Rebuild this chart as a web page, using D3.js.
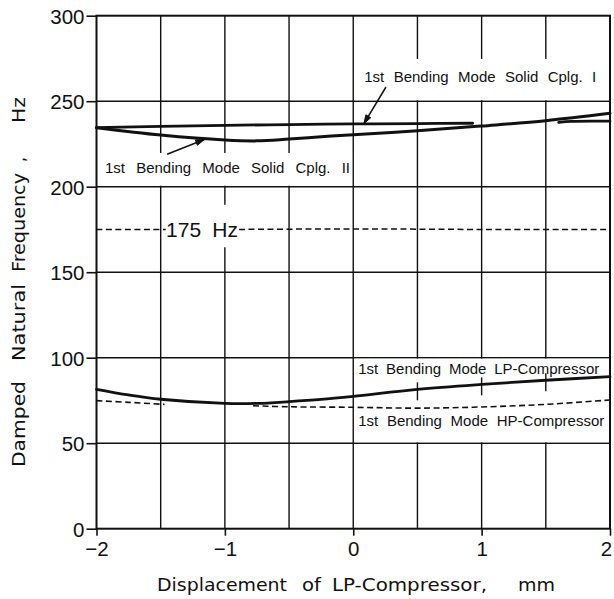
<!DOCTYPE html>
<html><head><meta charset="utf-8">
<script src="https://cdn.jsdelivr.net/npm/d3@7"></script>
<style>
html,body{margin:0;padding:0;background:#fff;}
svg{display:block;}
text{fill:#111;}
</style></head>
<body>
<svg id="chart" width="614" height="599"></svg>
<script>
// ---- data ----
const xTicks = [-2, -1, 0, 1, 2];
const xTickLabels = ["\u22122", "\u22121", "0", "1", "2"];
const yTicks = [0, 50, 100, 150, 200, 250, 300];
const xGrid = [-1.5, -1, -0.5, 0, 0.5, 1, 1.5];
const yGrid = [50, 100, 150, 200, 250];

const cplgI_x = [-2, -1.5, -1, -0.5, 0, 0.5, 0.93];
const cplgI_y = [234.5, 235.3, 235.9, 236.3, 236.7, 236.9, 237.1];
const cplgITail_x = [1.6, 1.7, 2.0];
const cplgITail_y = [237.6, 238.2, 238.3];
const cplgII_x = [-2, -1.5, -1, -0.75, -0.5, -0.25, 0, 0.5, 1, 1.5, 2];
const cplgII_y = [234.5, 230.2, 227.3, 226.8, 227.9, 229.2, 230.4, 232.7, 235.5, 238.6, 242.9];
const ref_x = [-2, -1, 0, 1, 2];
const ref_y = [175, 175, 175.3, 175, 175];
const lp_x = [-2, -1.75, -1.5, -1, -0.75, -0.5, -0.25, 0, 0.5, 1, 1.5, 2];
const lp_y = [81.5, 78.2, 75.7, 73.3, 73.3, 74.3, 75.6, 77.4, 81.5, 84.4, 86.8, 88.9];
const hp_x = [-2, -1.75, -1.47, -1.1, -0.78, -0.5, 0, 0.5, 1, 1.5, 2];
const hp_y = [74.9, 73.9, 72.7, null, 71.9, 71.3, 71.0, 70.5, 71.2, 72.7, 75.3];

const labels = {
  cplgI: "1st Bending Mode Solid Cplg. I",
  cplgII: "1st Bending Mode Solid Cplg. II",
  ref: "175 Hz",
  lp: "1st Bending Mode LP-Compressor",
  hp: "1st Bending Mode HP-Compressor",
  xTitle: "Displacement of LP-Compressor, mm",
  yTitle: "Damped Natural Frequency , Hz"
};

// ---- scales ----
const svg = d3.select("#chart");
const x = d3.scaleLinear().domain([-2, 2]).range([96.5, 610]);
const y = d3.scaleLinear().domain([0, 300]).range([528.7, 15.7]);
const zip = (xs, ys) => xs.map((v, i) => ({x: v, y: ys[i]}));

const ink = "#111";
const SANS = "'Liberation Sans', Arial, sans-serif";
const WIDE = "'DejaVu Sans', sans-serif";

// fit a text to a target length by widening word gaps
function fit(sel, target) {
  const L = sel.node().getComputedTextLength();
  const n = (sel.text().match(/ /g) || []).length;
  if (target > L && n > 0) sel.attr("word-spacing", (target - L) / n);
  else if (target < L) sel.attr("textLength", target).attr("lengthAdjust", "spacingAndGlyphs");
  return sel;
}
// place each word of a title at a given start offset and length
function wordLayout(sel, str, spans) {
  str.split(" ").forEach((w, i) => {
    sel.append("tspan").attr("x", spans[i][0]).attr("textLength", spans[i][1] - spans[i][0])
      .attr("lengthAdjust", "spacingAndGlyphs").text(w);
  });
}

// ---- gridlines ----
const g = svg.append("g");
g.selectAll("line.vg").data(xGrid).join("line")
  .attr("x1", d => x(d)).attr("x2", d => x(d))
  .attr("y1", y(300)).attr("y2", y(0))
  .attr("stroke", ink).attr("stroke-width", 1.4);
g.selectAll("line.hg").data(yGrid).join("line")
  .attr("x1", x(-2)).attr("x2", x(2))
  .attr("y1", d => y(d)).attr("y2", d => y(d))
  .attr("stroke", ink).attr("stroke-width", 1.4);

const line = d3.line().defined(d => d.y != null)
  .x(d => x(d.x)).y(d => y(d.y)).curve(d3.curveCatmullRom.alpha(0.5));

// 175 Hz reference
svg.append("path").datum(zip(ref_x, ref_y)).attr("d", line)
  .attr("fill", "none").attr("stroke", ink).attr("stroke-width", 1.5)
  .attr("stroke-dasharray", "6,3.5");

// ---- white label boxes (break gridlines) ----
const masks = [
  [0, 2, 275.3, 250],
  [-2, 0, 220.3, 200],
  [-1.47, -0.88, 190, 164],
  [0, 2, 100, 50]
];
svg.selectAll("rect.mask").data(masks).join("rect")
  .attr("x", d => x(d[0]) + 1.2).attr("width", d => x(d[1]) - x(d[0]) - 2.4)
  .attr("y", d => y(d[2]) + 1).attr("height", d => y(d[3]) - y(d[2]) - 2)
  .attr("fill", "#fff");

// ---- curves ----
const solid = (data, w) => svg.append("path").datum(data).attr("d", line)
  .attr("fill", "none").attr("stroke", ink).attr("stroke-width", w)
  .attr("stroke-linecap", "round").attr("stroke-linejoin", "round");
solid(zip(cplgI_x, cplgI_y), 2.8);
solid(zip(cplgITail_x, cplgITail_y), 2.8);
solid(zip(cplgII_x, cplgII_y), 3);
solid(zip(lp_x, lp_y), 2.8);
svg.append("path").datum(zip(hp_x, hp_y)).attr("d", line)
  .attr("fill", "none").attr("stroke", ink).attr("stroke-width", 1.6)
  .attr("stroke-dasharray", "6,3.5");

// gridline stubs crossing the LP curve inside the label box
const stubX = [0.5, 1, 1.5];
svg.selectAll("line.stub").data(stubX).join("line")
  .attr("x1", d => x(d)).attr("x2", d => x(d))
  .attr("y1", d => y(lp_y[lp_x.indexOf(d)]) - 7)
  .attr("y2", d => y(lp_y[lp_x.indexOf(d)]) + 11)
  .attr("stroke", ink).attr("stroke-width", 1.4);

// ---- frame ----
svg.append("rect").attr("x", x(-2)).attr("y", y(300))
  .attr("width", x(2) - x(-2)).attr("height", y(0) - y(300))
  .attr("fill", "none").attr("stroke", ink).attr("stroke-width", 2);

// ---- axes ----
const yAxis = svg.append("g").attr("transform", `translate(${x(-2)},0)`)
  .call(d3.axisLeft(y).tickValues(yTicks).tickSize(10).tickPadding(2).tickFormat(d3.format("d")));
yAxis.select(".domain").remove();
yAxis.selectAll(".tick line").attr("stroke", ink).attr("stroke-width", 1.6);
yAxis.selectAll(".tick text").style("font-size", "20.5px").style("font-family", SANS)
  .attr("fill", ink).attr("dy", "0.36em");

const xAxis = svg.append("g").attr("transform", `translate(0,${y(0)})`)
  .call(d3.axisBottom(x).tickValues(xTicks).tickSize(7).tickPadding(6)
    .tickFormat((d, i) => xTickLabels[i]));
xAxis.select(".domain").remove();
xAxis.selectAll(".tick line").attr("stroke", ink).attr("stroke-width", 1.6);
xAxis.selectAll(".tick text").style("font-size", "20.5px").style("font-family", SANS)
  .attr("fill", ink).attr("x", d => d === 2 ? -4 : 0);

// ---- titles ----
const xt = svg.append("text").attr("y", 591)
  .style("font-family", WIDE).style("font-size", "18.5px");
wordLayout(xt, labels.xTitle, [[157, 287], [302, 321], [332, 487], [518, 555]]);

const yt = svg.append("text").attr("transform", "translate(25,467) rotate(-90)").attr("y", 0)
  .style("font-family", WIDE).style("font-size", "18.5px");
wordLayout(yt, labels.yTitle, [[0, 86], [106, 183], [195, 294], [305, 310], [344, 370]]);

// ---- inner labels ----
const lab = (txt, x0, y0, len, fs) => fit(svg.append("text").attr("x", x0).attr("y", y0)
  .style("font-family", SANS).style("font-size", fs + "px").text(txt), len);
lab(labels.cplgI, x(0) + 11, 82, 232, 15);
lab(labels.cplgII, x(-2) + 8.5, 173, 245, 15);
lab(labels.ref, x(-1.47) + 1.5, 237, 72, 21);
lab(labels.lp, x(0) + 5, 374, 241, 15);
lab(labels.hp, x(0) + 5, 426, 246, 15);

// ---- arrows ----
const arrows = [
  {from: [0.255, 258.3], to: [0.083, 236.9]},
  {from: [-1.45, 219.0], to: [-1.16, 227.6]}
];
arrows.forEach(a => {
  const x1 = x(a.from[0]), y1 = y(a.from[1]), x2 = x(a.to[0]), y2 = y(a.to[1]);
  svg.append("line").attr("x1", x1).attr("y1", y1).attr("x2", x2).attr("y2", y2)
    .attr("stroke", ink).attr("stroke-width", 1.5);
  const ang = Math.atan2(y2 - y1, x2 - x1), L = 9, W = 0.32;
  const p = [[x2, y2],
    [x2 - L * Math.cos(ang - W), y2 - L * Math.sin(ang - W)],
    [x2 - L * Math.cos(ang + W), y2 - L * Math.sin(ang + W)]];
  svg.append("path").attr("d", d3.line()(p) + "Z").attr("fill", ink).attr("stroke", ink).attr("stroke-width", 1);
});
</script>
</body></html>
